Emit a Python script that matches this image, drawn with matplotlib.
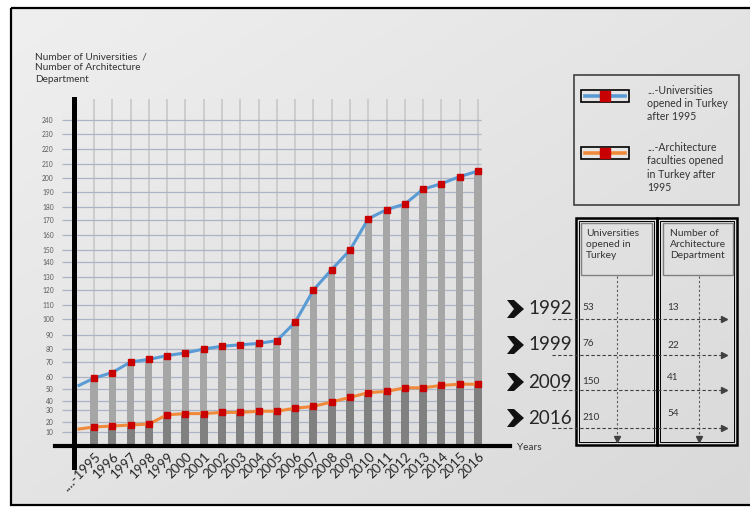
import numpy as np
import matplotlib
matplotlib.use('Agg')
import matplotlib.pyplot as plt
from matplotlib.patches import Rectangle, Polygon
from matplotlib.colors import LinearSegmentedColormap
from matplotlib.transforms import ScaledTranslation

plt.rcParams['font.family'] = ['Lato', 'DejaVu Sans']

# values
years = ['....-1995', '1996', '1997', '1998', '1999', '2000', '2001', '2002', '2003', '2004', '2005',
         '2006', '2007', '2008', '2009', '2010', '2011', '2012', '2013', '2014', '2015', '2016']
universities = [59, 63, 70, 72, 75, 77, 80, 82, 83, 84, 86, 98, 120, 135, 150, 171, 178, 182, 192, 196, 201, 205]
architecture = [15, 16, 17, 18, 26, 27, 27, 28, 28, 29, 29, 32, 34, 39, 43, 47, 48, 51, 51, 53, 54, 54]
# both lines start from the 1992 level, at the y axis
start_universities = 53
start_architecture = 13

table_years = ['1992', '1999', '2009', '2016']
table_universities = [53, 76, 150, 210]
table_architecture = [13, 22, 41, 54]

y_ticks = list(range(10, 250, 10))

# the source chart has hand spaced gridlines (bottom part squeezed) -> piecewise scale
scale_values = list(range(0, 250, 10)) + [260]
scale_heights = [0, 14, 24, 36, 45, 57, 69, 84, 97, 111, 127, 141, 156, 169, 184, 196, 211, 226,
                 239, 254, 268, 282, 297, 312, 326, 355]


def forward(v):
    return np.interp(v, scale_values, scale_heights)


def inverse(h):
    return np.interp(h, scale_heights, scale_values)


BLUE = '#5b9bd5'
ORANGE = '#f0893a'
RED = '#c80000'
TXT = '#333333'

fig = plt.figure(figsize=(7.5, 5.07), dpi=100)

# overlay in pixel coordinates for background, frame, legend and table
ov = fig.add_axes([0, 0, 1, 1], zorder=0)
grad = np.add.outer(np.linspace(0, 1, 100), np.linspace(0, 1, 100)) / 2
ov.imshow(grad, extent=(10, 760, 505, 7.5), aspect='auto', zorder=0,
          cmap=LinearSegmentedColormap.from_list('bg', ['#efefef', '#d9d9d9']))
ov.add_patch(Rectangle((10.5, 7.5), 760, 497.5, fill=False, ec='black', lw=1.6, zorder=1))
ov.set_xlim(0, 750)
ov.set_ylim(507, 0)
ov.axis('off')

# main chart
ax = fig.add_axes([0.0993, 0.1203, 0.5807, 0.6844], zorder=1)
ax.patch.set_alpha(0)
ax.set_yscale('function', functions=(forward, inverse))
x = np.arange(len(years))

ax.bar(x, universities, width=0.40, color='#a6a6a6', zorder=2)
ax.bar(x, architecture, width=0.44, color='#808080', zorder=3)

line_x = np.concatenate([[-0.82], x])
ax.plot(line_x, [start_universities] + universities, color=BLUE, lw=2.2, zorder=4,
        marker='s', ms=5, mfc=RED, mec=RED, markevery=list(range(1, len(line_x))))
ax.plot(line_x, [start_architecture] + architecture, color=ORANGE, lw=2.2, zorder=4,
        marker='s', ms=5, mfc=RED, mec=RED, markevery=list(range(1, len(line_x))))

ax.set_xlim(-1.066, 22.75)
ax.set_ylim(0, 254.5)

ax.hlines(y_ticks, -1.75, 21.15, colors='#aab4c6', lw=0.9, zorder=1, clip_on=False)
ax.set_xticks(x)
ax.grid(axis='x', color='#c8c8c8', lw=1.2, zorder=0)
ax.set_axisbelow(True)

ax.set_yticks(y_ticks)
ax.set_yticklabels([str(v) for v in y_ticks], fontsize=4.8, color='#595959')
ax.tick_params(axis='y', length=0, pad=15)

ax.set_xticklabels(years, rotation=45, ha='right', fontsize=9.5, color='#262626')
ax.tick_params(axis='x', length=0, pad=3)
offset = ScaledTranslation(9 / 100, 0, fig.dpi_scale_trans)
for lab in ax.get_xticklabels():
    lab.set_transform(lab.get_transform() + offset)

for s in ax.spines.values():
    s.set_visible(False)

# thick crossing axes
ax.axhline(0, xmin=-0.045, xmax=1, color='black', lw=3, clip_on=False, zorder=5)
ax.axvline(-1.066, ymin=-0.06, ymax=1, color='black', lw=3.6, clip_on=False, zorder=5)

ov.text(35, 52, 'Number of Universities  /\nNumber of Architecture\nDepartment', fontsize=7.2,
        color=TXT, va='top', ha='left', linespacing=1.35)
ov.text(517, 447, 'Years', fontsize=7.2, color=TXT, va='center', ha='left')

# legend box
ov.add_patch(Rectangle((574, 75), 165, 130, fill=False, ec='#404040', lw=1.2, zorder=2))
for y0, col, label in [(90, BLUE, '...-Universities\nopened in Turkey\nafter 1995'),
                       (147, ORANGE, '...-Architecture\nfaculties opened\nin Turkey after\n1995')]:
    ov.add_patch(Rectangle((581, y0), 48, 12, fc='#e6e6e6', ec='black', lw=1.2, zorder=2))
    ov.plot([585, 625], [y0 + 6, y0 + 6], color=col, lw=2.6, zorder=3)
    ov.plot(605, y0 + 6, 's', ms=6.5, color=RED, zorder=4)
    ov.text(647, y0 - 5, label, fontsize=7.6, color=TXT, va='top', ha='left', linespacing=1.25)

# summary table
for x0, x1 in [(576, 657), (657, 737)]:
    ov.add_patch(Rectangle((x0, 218), x1 - x0, 227, fill=False, ec='black', lw=1.8, zorder=2))
    ov.add_patch(Rectangle((x0 + 3, 221), x1 - x0 - 6, 221, fill=False, ec='black', lw=0.7, zorder=2))
ov.add_patch(Rectangle((581, 223), 71, 52, fill=False, ec='#808080', lw=1, zorder=2))
ov.add_patch(Rectangle((663, 223), 70, 52, fill=False, ec='#808080', lw=1, zorder=2))
ov.text(586, 229, 'Universities\nopened in\nTurkey', fontsize=7.4, color=TXT, va='top', linespacing=1.25)
ov.text(670, 229, 'Number of\nArchitecture\nDepartment', fontsize=7.4, color=TXT, va='top', linespacing=1.25)
for xc in [617, 699]:
    ov.plot([xc, xc], [276, 437], color='#595959', lw=0.8, ls=(0, (2, 2)), zorder=2)
    ov.plot(xc, 439, 'v', ms=4, color='#404040', zorder=3)

year_y = [309, 345, 382, 418]
col2_y = [307, 345, 377, 414]
dash_y = [319, 355, 390, 428]
for i, yr in enumerate(table_years):
    yc = year_y[i]
    # heavy chevron in front of each year
    ov.add_patch(Polygon([(507, yc - 9), (514, yc - 9), (524, yc), (514, yc + 9), (507, yc + 9), (514, yc)],
                         closed=True, fc='#111111', ec='none', zorder=3))
    ov.text(528, yc, yr, fontsize=13.5, color='#262626', va='center', ha='left')
    ov.text(582, yc - 1, str(table_universities[i]), fontsize=7.2, color=TXT, va='center')
    ov.text(667, col2_y[i], str(table_architecture[i]), fontsize=7.2, color=TXT, va='center')
    ov.plot([552, 722], [dash_y[i], dash_y[i]], color='#404040', lw=0.8, ls=(0, (3, 2)), zorder=2)
    ov.plot(724, dash_y[i], '>', ms=4, color='#404040', zorder=3)

fig.savefig('out.png', dpi=100)
